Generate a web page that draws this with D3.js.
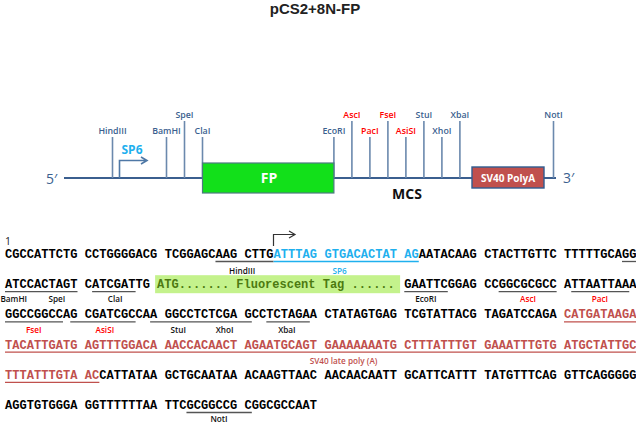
<!DOCTYPE html>
<html>

<head>
    <meta charset="utf-8" />
    <title>pCS2+8N-FP</title>
    <script src="https://d3js.org/d3.v7.min.js"></script>
    <style>
        body { margin: 0; background: #fff; }
        svg { display: block; }
        text { font-family: "Open Sans", sans-serif; }
        .seq { font-family: "Liberation Mono", monospace; font-weight: bold; font-size: 12px; }
        .site { font-size: 8.8px; font-weight: 600; text-anchor: middle; }
        .seqLabel { font-size: 8.2px; font-weight: 600; text-anchor: middle; }
    </style>
</head>

<body>
    <svg id="chart" width="636" height="423"></svg>

    <script>
        // restriction sites on the map, position counted in site slots
        var siteNames = ["HindIII", "BamHI", "SpeI", "ClaI", "EcoRI", "AscI", "PacI", "FseI", "AsiSI", "StuI", "XhoI", "XbaI", "NotI"];
        var siteSlots = [0, 3, 4, 5, 12.3, 13.3, 14.3, 15.3, 16.3, 17.3, 18.3, 19.3, 24.5];
        var siteTall = [0, 0, 1, 0, 0, 1, 0, 1, 0, 1, 0, 1, 1];
        var siteNew = [0, 0, 0, 0, 0, 1, 1, 1, 1, 0, 0, 0, 0];

        // sequence rows, with the tag insert kept apart
        var seqRows = [
            "CGCCATTCTGCCTGGGGACGTCGGAGCAAGCTTGATTTAGGTGACACTATAGAATACAAGCTACTTGTTCTTTTTGCAGG",
            "ATCCACTAGTCATCGATTG                               GAATTCGGAGCCGGCGCGCCATTAATTAAA",
            "GGCCGGCCAGCGATCGCCAAGGCCTCTCGAGCCTCTAGAACTATAGTGAGTCGTATTACGTAGATCCAGACATGATAAGA",
            "TACATTGATGAGTTTGGACAAACCACAACTAGAATGCAGTGAAAAAAATGCTTTATTTGTGAAATTTGTGATGCTATTGC",
            "TTTATTTGTAACCATTATAAGCTGCAATAAACAAGTTAACAACAACAATTGCATTCATTTTATGTTTCAGGTTCAGGGGG",
            "AGGTGTGGGAGGTTTTTTAATTCGCGGCCGCGGCGCCAAT"
        ];
        var tagText = "ATG....... Fluorescent Tag ......";

        // row, first char, last char, kind
        var seqFeatures = [
            [0, 27, 33, "site"], [0, 78, 79, "site"], [0, 34, 51, "sp6"],
            [1, 0, 9, "site"], [1, 11, 16, "site"], [1, 50, 55, "site"], [1, 62, 69, "site"], [1, 71, 78, "site"],
            [2, 0, 7, "site"], [2, 9, 16, "site"], [2, 19, 30, "site"], [2, 33, 38, "site"],
            [2, 70, 79, "poly"], [3, 0, 79, "poly"], [4, 0, 11, "poly"], [5, 23, 30, "site"]
        ];
        // name, row, position along the row, kind
        var seqLabels = [
            ["HindIII", 0, 29.7, "site"], ["SP6", 0, 41.9, "sp6"],
            ["BamHI", 1, 1.1, "site"], ["SpeI", 1, 6.5, "site"], ["ClaI", 1, 13.8, "site"], ["EcoRI", 1, 52.7, "site"],
            ["AscI", 1, 65.5, "new"], ["PacI", 1, 74.5, "new"],
            ["FseI", 2, 3.6, "new"], ["AsiSI", 2, 12.5, "new"], ["StuI", 2, 21.7, "site"], ["XhoI", 2, 27.5, "site"], ["XbaI", 2, 35.3, "site"],
            ["SV40 late poly (A)", 3, 42.4, "poly"], ["NotI", 5, 26.8, "site"]
        ];
        var labelDrop = [16, 14, 15, 15, 0, 13];

        var svg = d3.select("#chart");
        var blue = "#3b5f8f", stem = "#6b89ad", red = "#ff0000", polyRed = "#c0504d", sp6Blue = "#1fb0ee";

        svg.append("text").attr("x", 315).attr("y", 13.6).attr("text-anchor", "middle")
            .style("font-family", "'Liberation Sans', sans-serif")
            .attr("font-size", 15).attr("font-weight", "bold").attr("fill", "#222").text("pCS2+8N-FP");

        //map
        var mapY = 178;
        var siteX = d3.scaleLinear().domain([0, 24.5]).range([112.5, 553.5]);
        var sites = siteNames.map(function (name, i) {
            return { name: name, slot: siteSlots[i], tall: siteTall[i], isNew: siteNew[i] };
        });

        svg.append("line").attr("x1", 64).attr("x2", 556).attr("y1", mapY).attr("y2", mapY)
            .attr("stroke", blue).attr("stroke-width", 2.2);

        svg.selectAll(".stem").data(sites).enter().append("line")
            .attr("class", "stem")
            .attr("x1", function (d) { return siteX(d.slot); })
            .attr("x2", function (d) { return siteX(d.slot); })
            .attr("y1", mapY)
            .attr("y2", function (d) { return d.tall ? 121 : 137; })
            .attr("stroke", stem).attr("stroke-width", 1.6);

        svg.selectAll(".site").data(sites).enter().append("text")
            .attr("class", "site")
            .attr("x", function (d) { return siteX(d.slot); })
            .attr("y", function (d) { return d.tall ? 118 : 134; })
            .attr("fill", function (d) { return d.isNew ? red : blue; })
            .text(function (d) { return d.name; });

        svg.append("rect").attr("x", siteX(5)).attr("width", siteX(12.3) - siteX(5)).attr("y", 163).attr("height", 30)
            .attr("fill", "#12e01a").attr("stroke", "#4d7a80").attr("stroke-width", 1.2);
        svg.append("text").attr("x", 269).attr("y", 183).attr("text-anchor", "middle")
            .attr("font-size", 14).attr("font-weight", "bold").attr("fill", "#fff").text("FP");

        svg.append("rect").attr("x", 472).attr("width", 72).attr("y", 167).attr("height", 21)
            .attr("fill", "#c0504d").attr("stroke", "#2f5c90").attr("stroke-width", 1.4);
        svg.append("text").attr("x", 508).attr("y", 182).attr("text-anchor", "middle")
            .attr("font-size", 10).attr("font-weight", "bold").attr("fill", "#fff").text("SV40 PolyA");

        svg.append("text").attr("x", 407).attr("y", 199).attr("text-anchor", "middle")
            .attr("font-size", 14).attr("font-weight", "bold").attr("fill", "#111").text("MCS");
        svg.append("text").attr("x", 46).attr("y", 184).attr("font-size", 14).attr("fill", blue).text("5\u2032");
        svg.append("text").attr("x", 563).attr("y", 183).attr("font-size", 14).attr("fill", blue).text("3\u2032");

        svg.append("path").attr("d", "M119.5,178V160.5H147M141,157l6,3.5l-6,3.5").attr("fill", "none")
            .attr("stroke", "#4f78a6").attr("stroke-width", 1.6);
        svg.append("text").attr("x", 132).attr("y", 154).attr("text-anchor", "middle")
            .attr("font-size", 12).attr("font-weight", "bold").attr("fill", sp6Blue).text("SP6");

        //sequence
        var blockX = d3.scaleLinear().domain([0, 7]).range([5, 564]);
        var charWidth = 7.25;
        var rowY = d3.scalePoint().domain(d3.range(6)).range([258, 409]);
        function charX(i) {
            return blockX(Math.floor(i / 10)) + (i % 10) * charWidth;
        }

        function charColor(row, i) {
            var kind = null;
            seqFeatures.forEach(function (f) {
                if (f[0] === row && i >= f[1] && i <= f[2] && f[3] !== "site") kind = f[3];
            });
            if (kind === "sp6") return sp6Blue;
            if (kind === "poly") return polyRed;
            return "#000";
        }

        svg.append("text").attr("x", 5).attr("y", 245).attr("font-size", 10.5).attr("fill", "#222").text("1");

        svg.append("path").attr("d", "M273.5,246V234.5H295M289,231l6,3.5l-6,3.5").attr("fill", "none")
            .attr("stroke", "#333").attr("stroke-width", 1.2);

        svg.append("rect").attr("x", charX(19) + 5).attr("width", 245).attr("y", rowY(1) - 13).attr("height", 18)
            .attr("fill", "#c4f28c");

        seqRows.forEach(function (seq, row) {
            var chars = seq.split("").map(function (c, i) { return { c: c, i: i }; })
                .filter(function (d) { return d.c !== " "; });
            svg.selectAll(".row" + row).data(chars).enter().append("text")
                .attr("class", "seq row" + row)
                .attr("x", function (d) { return charX(d.i); })
                .attr("y", rowY(row))
                .attr("fill", function (d) { return charColor(row, d.i); })
                .text(function (d) { return d.c; });
        });

        svg.append("text").attr("class", "seq").attr("x", charX(19) + 7).attr("y", rowY(1))
            .attr("fill", "#4c7a10").text(tagText);

        var lineColor = { site: "#555", sp6: sp6Blue, poly: polyRed };
        svg.selectAll(".under").data(seqFeatures).enter().append("line")
            .attr("class", "under")
            .attr("x1", function (d) { return charX(d[1]); })
            .attr("x2", function (d) { return charX(d[2]) + charWidth; })
            .attr("y1", function (d) { return rowY(d[0]) + 3.5; })
            .attr("y2", function (d) { return rowY(d[0]) + 3.5; })
            .attr("stroke", function (d) { return lineColor[d[3]]; })
            .attr("stroke-width", 1.3);

        var labelColor = { site: "#111", sp6: sp6Blue, poly: polyRed, new: red };
        svg.selectAll(".seqLabel").data(seqLabels).enter().append("text")
            .attr("class", "seqLabel")
            .attr("x", function (d) { return blockX(d[2] / 10); })
            .attr("y", function (d) { return rowY(d[1]) + labelDrop[d[1]]; })
            .attr("fill", function (d) { return labelColor[d[3]]; })
            .text(function (d) { return d[0]; });
    </script>

</body>

</html>
